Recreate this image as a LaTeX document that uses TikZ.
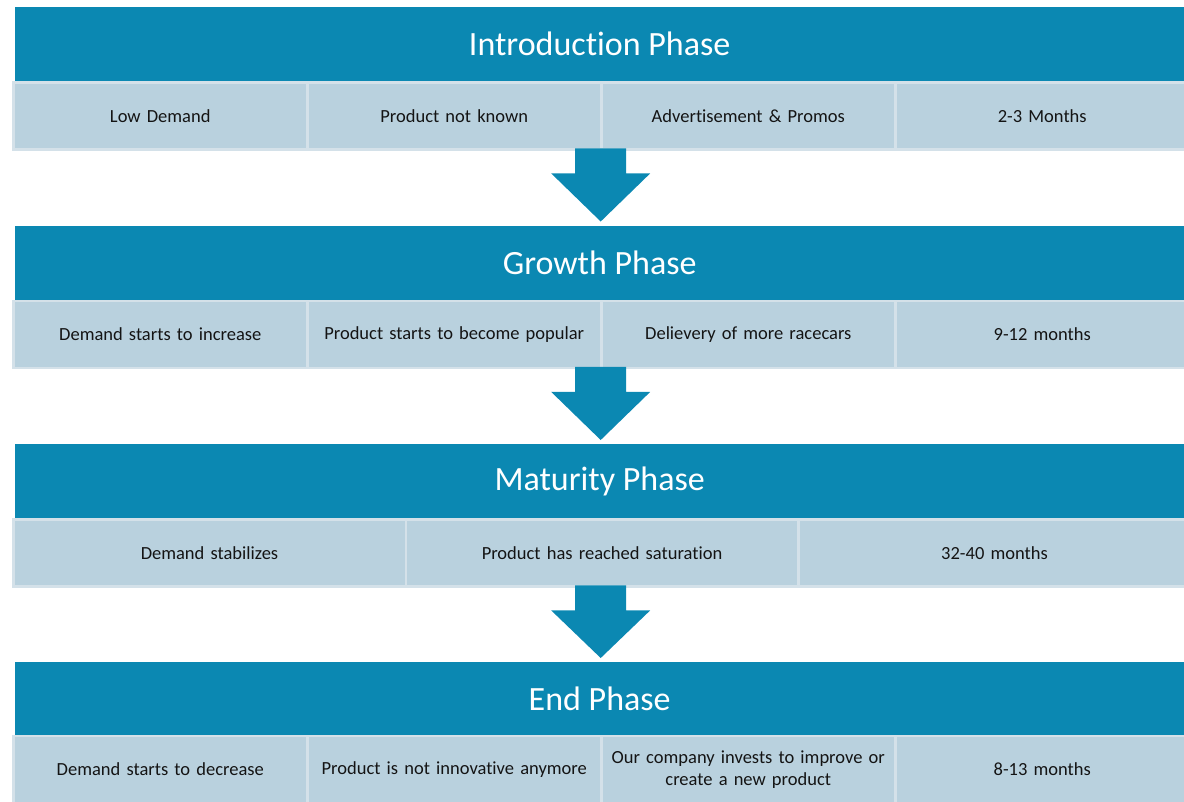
\documentclass[tikz,border=0pt]{standalone}
\usepackage{fontspec}
\setmainfont{Carlito}[Ligatures={NoCommon,NoRare,NoDiscretionary}]
\usetikzlibrary{calc}
\definecolor{hdrc}{RGB}{11,136,178}
\definecolor{cellc}{RGB}{185,209,222}
\definecolor{bordc}{RGB}{212,225,233}
\definecolor{txtc}{RGB}{20,20,20}
\begin{document}
\begin{tikzpicture}[x=1pt,y=-1pt,
  hdr/.style={fill=hdrc,text=white,inner sep=0pt,minimum height=74pt,minimum width=1169pt,anchor=north west,font=\fontsize{34}{40}\selectfont},
  cell/.style={fill=cellc,draw=bordc,line width=2.5pt,inner sep=0pt,minimum height=67pt,anchor=north west,align=center,text=txtc,font=\fontsize{18.5}{22}\selectfont},
  qcell/.style={cell,minimum width=294pt,text width=280pt},
  tcell/.style={cell,minimum width=392.5pt,text width=380pt},
  blockarrow/.style={fill=hdrc}]
\useasboundingbox (0,0) rectangle (1184,801);

% Introduction
\node[hdr] (h1) at (15,7) {Introduction Phase};
\node[qcell] (c11) at (12,81) {Low Demand};
\node[qcell] (c12) at (306,81) {Product not known};
\node[qcell] (c13) at (600,81) {Advertisement \& Promos};
\node[qcell] (c14) at (894,81) {2-3 Months};

% Growth
\node[hdr] (h2) at (15,225.5) {Growth Phase};
\node[qcell] (c21) at (12,299.5) {Demand starts to increase};
\node[qcell] (c22) at (306,299.5) {Product starts to become popular};
\node[qcell] (c23) at (600,299.5) {Delievery of more racecars};
\node[qcell] (c24) at (894,299.5) {9-12 months};

% Maturity
\node[hdr] (h3) at (15,444) {Maturity Phase};
\node[tcell] (c31) at (12,518) {Demand stabilizes};
\node[tcell] (c32) at (404.5,518) {Product has reached saturation};
\node[tcell] (c33) at (797,518) {32-40 months};

% End
\node[hdr] (h4) at (15,662) {End Phase};
\node[qcell] (c41) at (12,734.5) {Demand starts to decrease};
\node[qcell] (c42) at (306,734.5) {Product is not innovative anymore};
\node[qcell] (c43) at (600,734.5) {Our company invests to improve or\\create a new product};
\node[qcell] (c44) at (894,734.5) {8-13 months};

% block arrows
\foreach \a/\b in {1/2,2/3,3/4}{
  \coordinate (t\a) at ($(h\a.south)+(1,67)$);
  \coordinate (b\a) at ($(h\b.north)+(1,-4)$);
  \fill[blockarrow] ($(t\a)+(-25.5,0)$) -- ++(0,25) -- ++(-24,0) -- (b\a)
     -- ($(t\a)+(49.5,25)$) -- ++(-24,0) -- ++(0,-25) -- cycle;
}
\end{tikzpicture}
\end{document}
